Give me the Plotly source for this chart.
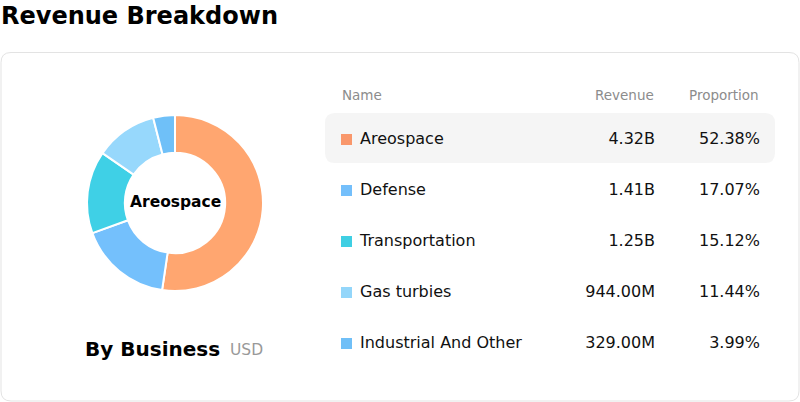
import plotly.graph_objects as go

names = ["Areospace", "Defense", "Transportation", "Gas turbies", "Industrial And Other"]
revenue = [4.32e9, 1.41e9, 1.25e9, 944.00e6, 329.00e6]
revenue_labels = ["4.32B", "1.41B", "1.25B", "944.00M", "329.00M"]
proportion_labels = ["52.38%", "17.07%", "15.12%", "11.44%", "3.99%"]
pie_colors = ["#FFA670", "#74C0FC", "#3FD0E6", "#97D8FC", "#6FC0F8"]
legend_colors = ["#F9976B", "#74BFFB", "#3FCFE3", "#93D6FA", "#70BFF7"]

W, H = 800, 402
FONT = "DejaVu Sans"

fig = go.Figure()

# donut
fig.add_trace(go.Pie(
    labels=names, values=revenue, hole=0.57, sort=False,
    direction="clockwise", rotation=0,
    marker=dict(colors=pie_colors, line=dict(color="white", width=2)),
    textinfo="none", hoverinfo="label+percent", showlegend=False,
    domain=dict(x=[87 / W, 263 / W], y=[(H - 291) / H, (H - 115) / H]),
))

# table rows positions (pixel axis)
row_y = [139.5 + 51 * i for i in range(len(names))]

fig.add_trace(go.Scatter(
    x=[346.5] * len(names), y=row_y, mode="markers",
    marker=dict(symbol="square", size=11, color=legend_colors, line=dict(width=0)),
    hoverinfo="skip", showlegend=False, xaxis="x", yaxis="y",
))
fig.add_trace(go.Scatter(
    x=[360] * len(names), y=row_y, mode="text", text=names,
    textposition="middle right",
    textfont=dict(family=FONT, size=16, color="#111"),
    hoverinfo="skip", showlegend=False,
))
fig.add_trace(go.Scatter(
    x=[655] * len(names), y=row_y, mode="text", text=revenue_labels,
    textposition="middle left",
    textfont=dict(family=FONT, size=16, color="#111"),
    hoverinfo="skip", showlegend=False,
))
fig.add_trace(go.Scatter(
    x=[760] * len(names), y=row_y, mode="text", text=proportion_labels,
    textposition="middle left",
    textfont=dict(family=FONT, size=16, color="#111"),
    hoverinfo="skip", showlegend=False,
))


def rrect(x0, y0, x1, y1, r):
    return (f"M{x0+r},{y0} L{x1-r},{y0} Q{x1},{y0} {x1},{y0+r} "
            f"L{x1},{y1-r} Q{x1},{y1} {x1-r},{y1} L{x0+r},{y1} "
            f"Q{x0},{y1} {x0},{y1-r} L{x0},{y0+r} Q{x0},{y0} {x0+r},{y0} Z")


shapes = [
    dict(type="path", xref="x", yref="y", path=rrect(1, 52.5, 799, 401, 10),
         line=dict(color="#E3E3E3", width=1), fillcolor="white", layer="below"),
    dict(type="path", xref="x", yref="y", path=rrect(325, 113, 775, 163, 10),
         line=dict(width=0), fillcolor="#F5F5F5", layer="below"),
]

annotations = [
    dict(x=0, y=16, xref="paper", yref="y", text="<b>Revenue Breakdown</b>", showarrow=False,
         xanchor="left", yanchor="middle", xshift=-1,
         font=dict(family=FONT, size=24, color="#000")),
    dict(x=175, y=202, xref="x", yref="y", text="<b>Areospace</b>", showarrow=False,
         xanchor="center", yanchor="middle", font=dict(family=FONT, size=15.5, color="#000")),
    dict(x=222, y=349, xref="x", yref="y", text="<b>By Business</b>", showarrow=False,
         xanchor="right", yanchor="middle", font=dict(family=FONT, size=20, color="#000")),
    dict(x=228, y=350, xref="x", yref="y", text="USD", showarrow=False,
         xanchor="left", yanchor="middle", font=dict(family=FONT, size=15.5, color="#999")),
    dict(x=340, y=95, xref="x", yref="y", text="Name", showarrow=False,
         xanchor="left", yanchor="middle", font=dict(family=FONT, size=13.5, color="#8c8c8c")),
    dict(x=656, y=95, xref="x", yref="y", text="Revenue", showarrow=False,
         xanchor="right", yanchor="middle", font=dict(family=FONT, size=13.5, color="#8c8c8c")),
    dict(x=761, y=95, xref="x", yref="y", text="Proportion", showarrow=False,
         xanchor="right", yanchor="middle", font=dict(family=FONT, size=13.5, color="#8c8c8c")),
]

fig.update_layout(
    width=W, height=H, margin=dict(l=0, r=0, t=0, b=0),
    paper_bgcolor="white", plot_bgcolor="rgba(0,0,0,0)",
    xaxis=dict(range=[0, W], visible=False, fixedrange=True, domain=[0, 1]),
    yaxis=dict(range=[H, 0], visible=False, fixedrange=True, domain=[0, 1]),
    shapes=shapes, annotations=annotations,
    font=dict(family=FONT),
)

fig.write_html("out.html", config={"displayModeBar": False},
               post_script="document.body.style.margin='0';document.body.style.overflow='hidden';")
